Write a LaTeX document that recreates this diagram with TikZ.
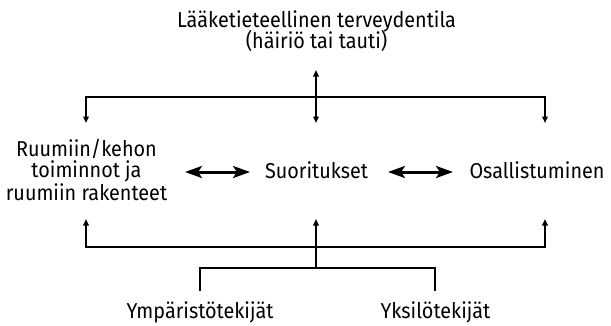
\documentclass[tikz,border=0pt]{standalone}
\usepackage{fontspec}
\setmainfont[FakeStretch=0.92]{Fira Sans}
\usetikzlibrary{arrows.meta}
\begin{document}
\begin{tikzpicture}[x=1bp,y=-1bp,
  lbl/.style={inner sep=0pt, font=\fontsize{21.6}{21}\selectfont, align=center},
  conn/.style={line width=1.7bp},
  tipconn/.style={line width=1.7bp, -{Triangle[width=5.5bp,length=6.5bp]}},
  bothconn/.style={line width=1.7bp, {Triangle[width=5.5bp,length=6.5bp]}-{Triangle[width=5.5bp,length=6.5bp]}},
  bigarrow/.style={line width=3bp, {Stealth[width=12bp,length=17bp,inset=4bp]}-{Stealth[width=12bp,length=17bp,inset=4bp]}}]
\useasboundingbox (0,0) rectangle (611,325);
% texts
\node[lbl, anchor=base] (t1) at (316.5,27) {Lääketieteellinen terveydentila};
\node[lbl, anchor=base] (t2) at (316.5,48) {(häiriö tai tauti)};
\node[lbl] (body) at (86.5,170) {Ruumiin/kehon\\toiminnot ja\\ruumiin rakenteet};
\node[lbl, anchor=base] (act) at (316.5,178) {Suoritukset};
\node[lbl, anchor=base] (part) at (537,178) {Osallistuminen};
\node[lbl, anchor=base] (env) at (200,318) {Ympäristötekijät};
\node[lbl, anchor=base] (pers) at (435.5,318) {Yksilötekijät};
% coordinates
\coordinate (cup) at (316,70);
\coordinate (cdown) at (316,123);
\coordinate (ltop) at (86,123);
\coordinate (rtop) at (545,123);
\coordinate (lbot) at (86,219);
\coordinate (cbot) at (316,219);
\coordinate (rbot) at (545,219);
\coordinate (cjoin) at (316,268);
\coordinate (envt) at (200,291);
\coordinate (perst) at (435,291);
\coordinate (a1) at (185,172);
\coordinate (a2) at (250,172);
\coordinate (a3) at (388,172);
\coordinate (a4) at (453,172);
% top connectors
\draw[bothconn] (cup) -- (cdown);
\draw[bothconn] (ltop) |- (316,97) -| (rtop);
% middle arrows
\draw[bigarrow] (a1) -- (a2);
\draw[bigarrow] (a3) -- (a4);
% bottom connectors
\draw[bothconn] (lbot) |- (316,247) -| (rbot);
\draw[tipconn] (cjoin) -- (cbot);
\draw[conn] (envt) |- (cjoin) -| (perst);
\end{tikzpicture}
\end{document}
